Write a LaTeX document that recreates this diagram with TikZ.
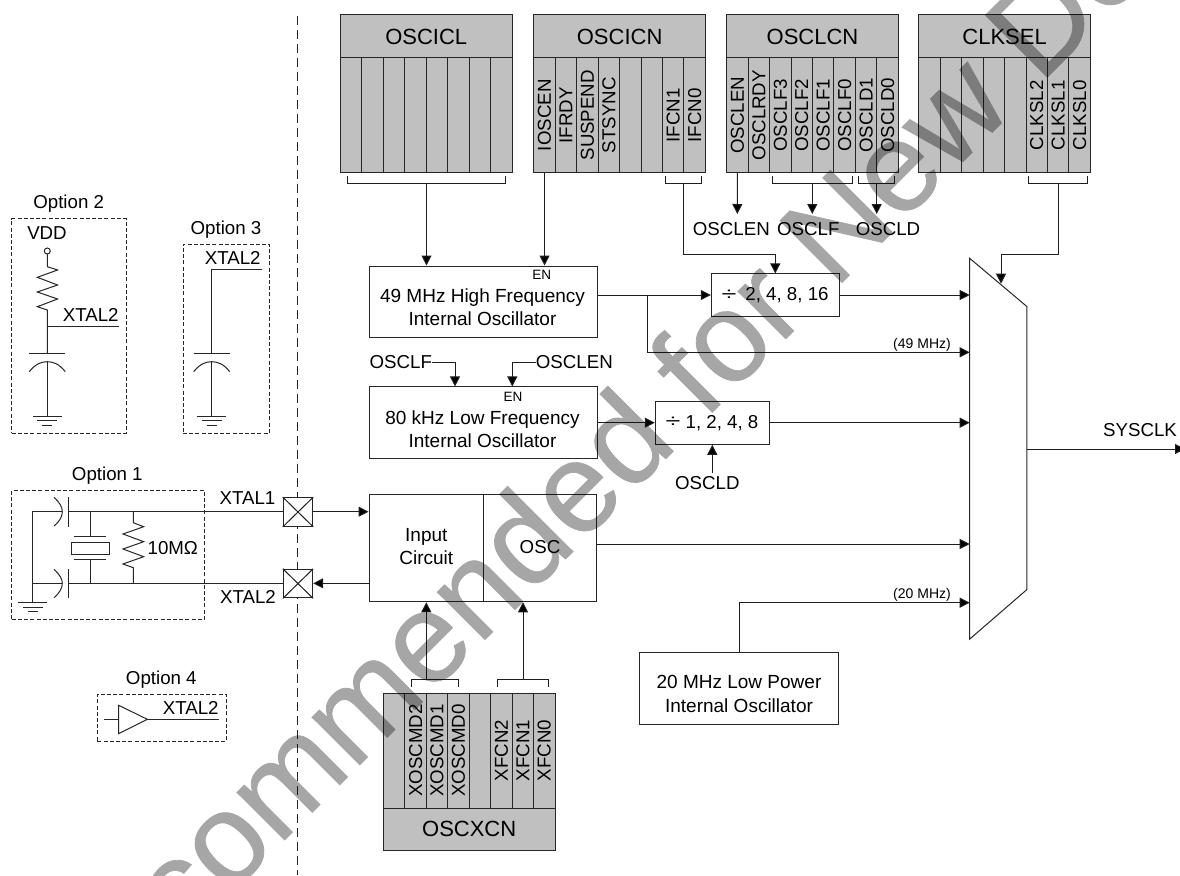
\documentclass[tikz,border=0pt]{standalone}
\usepackage{fontspec}
\setmainfont{Liberation Sans}
\newfontfamily\wmfont[FakeBold=0.6]{Liberation Sans}
\usetikzlibrary{arrows.meta,calc}
\newcommand{\fs}[1]{\fontsize{#1}{#1}\selectfont}
\newcommand{\dv}{\scalebox{1.45}[1]{÷}}
\tikzset{
  wire/.style={line width=1pt,draw=black!88},
  arr/.style={wire,-{Triangle[length=10pt,width=10pt,fill=black]}},
  blk/.style={draw=black!85,line width=1pt,fill=white,inner sep=0pt},
  hdr/.style={draw=black!85,line width=1pt,fill=regg,inner sep=0pt,minimum width=171.6pt,minimum height=43pt,font=\fs{22}},
  cell/.style={draw=black!85,line width=1pt,fill=regg,inner sep=0pt,rotate=90,minimum height=21.45pt,font=\fs{18.7}},
  txt/.style={inner sep=0pt,font=\fs{18.7}},
  ltxt/.style={inner sep=0pt,align=center,font=\fontsize{19}{23.2}\selectfont},
  smalltxt/.style={inner sep=0pt,font=\fs{13.5}},
  optbox/.style={draw=black!85,line width=0.8pt,dash pattern=on 4pt off 2.2pt},
  capwire/.style={line width=1pt,draw=black!85},
}
\definecolor{regg}{HTML}{C0C0C0}
\newcommand{\gnd}[2]{%
  \draw[capwire] (#1-14.7,#2) -- (#1+14.7,#2);
  \draw[capwire] (#1-10,#2+4.7) -- (#1+10,#2+4.7);
  \draw[capwire] (#1-5,#2+9.5) -- (#1+5,#2+9.5);}
\newcommand{\capv}[1]{%
  \draw[capwire] (#1-18,353.3) -- (#1+18,353.3);
  \draw[capwire] (#1-18,371.7) .. controls (#1-12,364) and (#1-6,361.7) .. (#1,361.7) .. controls (#1+6,361.7) and (#1+12,364) .. (#1+18,371.7);
  \draw[capwire] (#1,361.7) -- (#1,416);
  \gnd{#1}{416}}
\newcommand{\regtop}[3]{%
  \node[hdr] (#1) at (#2+85.8,36.5) {#1};
  \foreach \lab [count=\i] in {#3}{%
    \node[cell,minimum width=114.5pt] (#1c\i) at ({#2+(\i-0.5)*21.45},115.25) {\lab};
  }}
\newcommand{\bracket}[4]{%
  \draw[wire] (#1,#3) -- (#1,#4) -- (#2,#4) -- (#2,#3);}
\begin{document}
\begin{tikzpicture}[x=1pt,y=-1pt]
\useasboundingbox (0,0) rectangle (1180,875);
\clip (0,0) rectangle (1180,875);

% separator
\coordinate (septop) at (297,16);
\coordinate (sepbot) at (297,875);
\draw[line width=0.9pt,draw=black!85,dash pattern=on 9.3pt off 4.7pt] (septop) -- (sepbot);

% registers
\regtop{OSCICL}{340.4}{{},{},{},{},{},{},{},{}}
\regtop{OSCICN}{533.8}{IOSCEN,IFRDY,SUSPEND,STSYNC,{},{},IFCN1,IFCN0}
\regtop{OSCLCN}{726.7}{OSCLEN,OSCLRDY,OSCLF3,OSCLF2,OSCLF1,OSCLF0,OSCLD1,OSCLD0}
\regtop{CLKSEL}{918.8}{{},{},{},{},{},CLKSL2,CLKSL1,CLKSL0}

% oscxcn
\node[hdr,minimum height=42.3pt] (OSCXCN) at (469.2,829.2) {OSCXCN};
\foreach \lab [count=\i] in {{},XOSCMD2,XOSCMD1,XOSCMD0,{},XFCN2,XFCN1,XFCN0}{%
  \node[cell,minimum width=114.7pt] (OSCXCNc\i) at ({383.4+(\i-0.5)*21.45},750.7) {\lab};
}

% blocks
\node[blk,minimum width=228pt,minimum height=71pt] (hfo) at (483,301.5) {};
\node[ltxt] (hfot) at (482.5,307.3) {49 MHz High Frequency\\Internal Oscillator};
\node[smalltxt] (hfoen) at (541.7,275) {EN};
\node[blk,minimum width=228pt,minimum height=71.7pt] (lfo) at (483,422.8) {};
\node[ltxt] (lfot) at (482.5,429.3) {80 kHz Low Frequency\\Internal Oscillator};
\node[smalltxt] (lfoen) at (513,397) {EN};
\node[blk,minimum width=128.4pt,minimum height=42.7pt] (divh) at (775.5,295.3) {};
\node[txt] (divht) at (787,295.3) {2, 4, 8, 16};
\node[txt] (divhs) at (729,295) {\dv};
\node[blk,minimum width=114.4pt,minimum height=43pt] (divl) at (712.5,422.8) {};
\node[txt] (divlt) at (722,422.8) {1, 2, 4, 8};
\node[txt] (divls) at (673,422.5) {\dv};
\node[blk,minimum width=114.3pt,minimum height=107.7pt] (incirc) at (426.2,547.9) {};
\node[blk,minimum width=113.4pt,minimum height=107.7pt] (osc) at (540,547.9) {};
\node[ltxt] (inct) at (426.3,546.8) {Input\\Circuit};
\node[txt] (osct) at (540,547.3) {OSC};
\node[blk,minimum width=199pt,minimum height=71.6pt] (lpo) at (739.2,688.5) {};
\node[ltxt] (lpot) at (739,694) {20 MHz Low Power\\Internal Oscillator};

% mux
\node[inner sep=0pt,minimum width=57pt,minimum height=380.7pt] (mux) at (998.2,448.7) {};
\draw[blk] (mux.north west) -- ($(mux.north east)+(0,48.4)$) -- ($(mux.south east)+(0,-49.7)$) -- (mux.south west) -- cycle;

% register outputs
\bracket{347.3}{505.3}{176}{183.3}
\coordinate (bra1) at (426.5,183.3);
\draw[arr] (bra1) -- (bra1 |- hfo.north);
\draw[arr] (OSCICNc1.west) -- (OSCICNc1.west |- hfo.north);
\bracket{665.7}{701.7}{176}{183.3}
\coordinate (bra2) at (683.3,183.3);
\coordinate (bra2b) at (775.3,254.3);
\draw[arr] (bra2) |- (bra2b) -- (bra2b |- divh.north);

% OSCLCN labels
\coordinate (lenarr) at (737.3,214);
\draw[arr] (OSCLCNc1.west) -- (lenarr);
\node[txt] (lenl) at (731.3,229.3) {OSCLEN};
\bracket{772.7}{852}{176}{183.3}
\coordinate (bra3) at (812.3,183.3);
\coordinate (farr) at (812.3,214);
\draw[arr] (bra3) -- (farr);
\node[txt] (fl) at (808.3,229.3) {OSCLF};
\bracket{858.3}{894.7}{176}{183.3}
\coordinate (bra4) at (876.7,183.3);
\coordinate (darr) at (876.7,214);
\draw[arr] (bra4) -- (darr);
\node[txt] (dl) at (888,229.3) {OSCLD};
\bracket{1028.7}{1087.7}{176}{183.3}
\coordinate (bra5) at (1058,183.3);
\coordinate (bra5b) at (1001,254);
\coordinate (muxsel) at (1001,283.7);
\draw[arr] (bra5) |- (bra5b) -- (muxsel);

% main signals
\coordinate (m1) at (969.7,295);
\coordinate (m2) at (969.7,352.3);
\coordinate (m3) at (969.7,422.7);
\coordinate (m4) at (969.7,544);
\coordinate (m5) at (969.7,602.7);
\coordinate (tap) at (647.7,295);
\draw[arr] (hfo.east |- m1) -- (divh.west |- m1);
\draw[arr] (divh.east |- m1) -- (m1);
\draw[arr] (tap) |- (m2);
\node[smalltxt,font=\fs{14}] (l49) at (922,345) {(49 MHz)};
\draw[arr] (lfo.east |- m3) -- (divl.west |- m3);
\draw[arr] (divl.east |- m3) -- (m3);
\draw[arr] (osc.east |- m4) -- (m4);
\coordinate (lpoout) at (739.7,652.7);
\draw[arr] (lpoout) |- (m5);
\node[smalltxt,font=\fs{14}] (l20) at (922,595) {(20 MHz)};
\coordinate (sysend) at (1185,449);
\draw[arr] (mux.east |- sysend) -- (sysend);
\node[txt] (sys) at (1140,430) {SYSCLK};

% lfo inputs
\node[txt] (lfl) at (400.8,362.3) {OSCLF};
\coordinate (lfc) at (455,362.3);
\draw[arr] (lfl.east) -- (lfc) -- (lfc |- lfo.north);
\node[txt] (lel) at (574.3,362.3) {OSCLEN};
\coordinate (lec) at (512.3,362.3);
\draw[arr] (lel.west) -- (lec) -- (lec |- lfo.north);
\node[txt] (odl) at (707.3,483) {OSCLD};
\coordinate (odc) at (712.3,473);
\draw[arr] (odc) -- (odc |- divl.south);

% pads
\node[blk,minimum width=29.4pt,minimum height=28.7pt] (p1) at (298,512) {};
\draw[wire] (p1.north west) -- (p1.south east) (p1.north east) -- (p1.south west);
\node[blk,minimum width=29.4pt,minimum height=28.7pt] (p2) at (298,583.6) {};
\draw[wire] (p2.north west) -- (p2.south east) (p2.north east) -- (p2.south west);
\draw[arr] (p1.east |- 0,511.7) -- (incirc.west |- 0,511.7);
\draw[arr] (incirc.west |- 0,583.3) -- (p2.east |- 0,583.3);
\node[txt] (x1l) at (247.5,497.7) {XTAL1};
\node[txt] (x2l) at (248,596.7) {XTAL2};

% oscxcn control
\bracket{411.7}{458.7}{686.7}{679.3}
\bracket{497.7}{548}{686.7}{679.3}
\coordinate (bc1) at (426.3,679.3);
\coordinate (bc2) at (523,679.3);
\draw[arr] (bc1) -- (bc1 |- incirc.south);
\draw[arr] (bc2) -- (bc2 |- osc.south);

% Option 2
\node[txt] (o2l) at (68.7,204) {Option 2};
\node[optbox,minimum width=114.6pt,minimum height=214.6pt,inner sep=0pt] (o2) at (69,326) {};
\node[txt] (vdd) at (47,233) {VDD};
\draw[capwire] (47.3,251) circle (3);
\draw[capwire] (47.3,254) -- (47.3,266.7) -- (57.6,270) -- (37.3,277.3) -- (57.6,285) -- (37.3,292) -- (57.6,299) -- (37.3,306.7) -- (47.3,310) -- (47.3,353.3);
\draw[capwire] (47.3,326) -- (119.3,326);
\node[txt] (o2x) at (90.7,315.3) {XTAL2};
\capv{47.3}

% Option 3
\node[txt] (o3l) at (226,229.3) {Option 3};
\node[optbox,minimum width=86.3pt,minimum height=189.3pt,inner sep=0pt] (o3) at (226.2,338.7) {};
\node[txt] (o3x) at (232.7,258.3) {XTAL2};
\draw[capwire] (262.3,269.3) -- (211.7,269.3) -- (211.7,353.3);
\capv{211.7}

% Option 1
\node[txt] (o1l) at (107.3,475.7) {Option 1};
\node[optbox,minimum width=193pt,minimum height=128.3pt,inner sep=0pt] (o1) at (108.2,554.8) {};
\coordinate (t1) at (32.7,511.7);
\coordinate (t2) at (32.7,583.3);
\draw[capwire] (32.7,602.3) -- (t1) -- (62.3,511.7);
\draw[capwire] (t2) -- (62.3,583.3);
\draw[capwire] (54,497.3) .. controls (60,503) and (62.3,507) .. (62.3,511.7) .. controls (62.3,516.5) and (60,521) .. (54,526);
\draw[capwire] (54,569.3) .. controls (60,575) and (62.3,579) .. (62.3,583.3) .. controls (62.3,588) and (60,592.5) .. (54,597.7);
\draw[capwire] (68.7,497.3) -- (68.7,526.7);
\draw[capwire] (68.7,569.3) -- (68.7,597.7);
\draw[capwire] (68.7,511.7) -- (p1.west |- 0,511.7);
\draw[capwire] (68.7,583.3) -- (p2.west |- 0,583.3);
\gnd{32.7}{602.3}
\draw[capwire] (90,511.7) -- (90,536);
\draw[capwire] (74,536) -- (106,536);
\draw[capwire] (71.3,542.7) rectangle (109.7,554);
\draw[capwire] (74,559) -- (106,559);
\draw[capwire] (90,559) -- (90,583.3);
\draw[capwire] (133.3,511.7) -- (133.3,522.7) -- (143.7,526.7) -- (123,534) -- (143.7,541.7) -- (123,549) -- (143.7,556.7) -- (123,564) -- (133.3,567.7) -- (133.3,583.3);
\node[txt] (r10) at (172.8,548.3) {10MΩ};

% Option 4
\node[txt] (o4l) at (161.3,679.3) {Option 4};
\node[optbox,minimum width=129pt,minimum height=47pt,inner sep=0pt] (o4) at (161.8,717.8) {};
\draw[capwire] (104.3,719.3) -- (118.7,719.3);
\draw[capwire] (118.7,705.3) -- (147.3,719.3) -- (118.7,733.7) -- cycle;
\draw[capwire] (147.3,719.3) -- (219.3,719.3);
\node[txt] (o4x) at (190.7,708.3) {XTAL2};

% watermark
\begin{scope}[transparency group,opacity=0.35]
\node[inner sep=0pt,rotate=45,text=black,font=\wmfont\fs{127.5}] (wm) at (611,467) {Not Recommended for New Designs};
\end{scope}
\end{tikzpicture}
\end{document}
